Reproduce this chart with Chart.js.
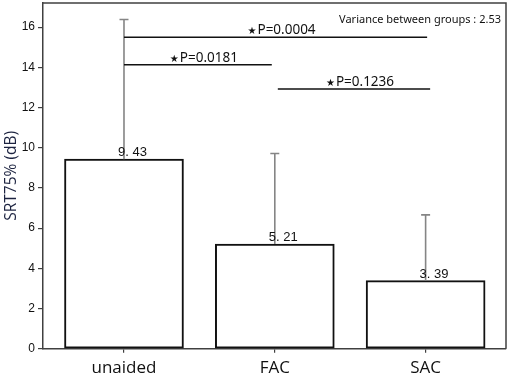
<!DOCTYPE html>
<html>
<head>
<meta charset="utf-8">
<script src="https://cdn.jsdelivr.net/npm/chart.js@4.4.1/dist/chart.umd.min.js"></script>
<style>
html,body{margin:0;padding:0;background:#fff;}
#wrap{width:510px;height:376px;}
</style>
</head>
<body>
<div id="wrap"><canvas id="c" width="510" height="376"></canvas></div>
<script>
const categories = ["unaided", "FAC", "SAC"];
const means = [9.43, 5.21, 3.39];
const meanLabels = ["9. 43", "5. 21", "3. 39"];
const errorTops = [16.38, 9.71, 6.66];
const yTicks = [0, 2, 4, 6, 8, 10, 12, 14, 16];
const sigFrom = [0, 0, 1.02];
const sigTo = [2.01, 0.98, 2.03];
const sigLevel = [15.49, 14.13, 12.92];
const sigText = ["P=0.0004", "P=0.0181", "P=0.1236"];
const varianceText = "Variance between groups : 2.53";

const annot = {
  id: 'annot',
  afterDatasetsDraw(chart) {
    const ctx = chart.ctx, xs = chart.scales.x, ys = chart.scales.y, a = chart.chartArea;
    ctx.save();
    // error bars
    ctx.strokeStyle = '#858585';
    ctx.lineWidth = 1.6;
    means.forEach((m, i) => {
      const x = xs.getPixelForValue(i);
      const y0 = ys.getPixelForValue(m);
      const y1 = ys.getPixelForValue(errorTops[i]);
      ctx.beginPath();
      ctx.moveTo(x, y0); ctx.lineTo(x, y1);
      ctx.moveTo(x - 4.5, y1); ctx.lineTo(x + 4.5, y1);
      ctx.stroke();
    });
    // value labels
    ctx.fillStyle = '#111';
    ctx.font = '13px "Liberation Sans", Arial, sans-serif';
    ctx.textAlign = 'left';
    ctx.textBaseline = 'alphabetic';
    means.forEach((m, i) => {
      const x = xs.getPixelForValue(i);
      const y = ys.getPixelForValue(m);
      ctx.fillText(meanLabels[i], x - 6, y - 3);
    });
    // significance lines
    ctx.strokeStyle = '#111';
    ctx.lineWidth = 1.5;
    const sigFont = '13.5px "Noto Sans", "Open Sans", sans-serif';
    sigLevel.forEach((lv, i) => {
      const x0 = xs.getPixelForValue(sigFrom[i]);
      const x1 = xs.getPixelForValue(sigTo[i]);
      const y = ys.getPixelForValue(lv);
      ctx.beginPath(); ctx.moveTo(x0, y); ctx.lineTo(x1, y); ctx.stroke();
      const cx = (x0 + x1) / 2 + 6;
      ctx.font = sigFont;
      const tw = ctx.measureText(sigText[i]).width;
      ctx.font = '10px "DejaVu Sans", sans-serif';
      const sw = ctx.measureText('★').width;
      const total = sw + 1 + tw;
      const left = cx - total / 2;
      ctx.textAlign = 'left';
      ctx.fillText('★', left, y - 3);
      ctx.font = sigFont;
      ctx.fillText(sigText[i], left + sw + 1, y - 3);
    });
    // variance text
    ctx.font = '11px "Noto Sans", "Open Sans", sans-serif';
    ctx.textAlign = 'right';
    ctx.textBaseline = 'middle';
    ctx.fillStyle = '#111';
    ctx.fillText(varianceText, a.right - 5, 20);
    // frame top/right
    ctx.strokeStyle = '#404040';
    ctx.lineWidth = 1.5;
    ctx.beginPath();
    ctx.moveTo(a.left, a.top); ctx.lineTo(a.right, a.top); ctx.lineTo(a.right, a.bottom);
    ctx.stroke();
    ctx.restore();
  }
};

new Chart(document.getElementById('c'), {
  type: 'bar',
  data: {
    datasets: [{
      data: means.map((v, i) => ({x: i, y: v})),
      backgroundColor: '#ffffff',
      borderColor: '#111111',
      borderWidth: 2,
      borderSkipped: false,
      barThickness: 119
    }]
  },
  options: {
    responsive: false,
    animation: false,
    events: [],
    layout: {padding: {top: 3, right: 4, left: 0, bottom: 0}},
    plugins: {legend: {display: false}, tooltip: {enabled: false}},
    scales: {
      x: {
        type: 'linear',
        offset: false,
        bounds: 'data',
        min: -0.537,
        max: 2.533,
        afterBuildTicks: s => { s.ticks = categories.map((c, i) => ({value: i})); },
        afterFit: s => { s.height = 27.3; s.paddingLeft = 0; s.paddingRight = 0; },
        ticks: {
          callback: v => categories[v],
          font: {family: '"Open Sans", "Noto Sans", sans-serif', size: 17},
          color: '#111',
          padding: 5,
          autoSkip: false,
          maxRotation: 0
        },
        grid: {drawOnChartArea: false, drawTicks: true, tickLength: 4, color: '#404040', lineWidth: 1.2, offset: false},
        border: {color: '#404040', width: 1.5}
      },
      y: {
        min: 0,
        max: 17.2,
        afterBuildTicks: s => { s.ticks = yTicks.map(v => ({value: v})); },
        afterFit: s => { s.width = 43; s.paddingTop = 0; s.paddingBottom = 0; },
        ticks: {
          font: {family: '"Liberation Sans", Arial, sans-serif', size: 12},
          color: '#111',
          padding: 3
        },
        grid: {drawOnChartArea: false, drawTicks: true, tickLength: 5, color: '#404040', lineWidth: 1.2},
        border: {color: '#404040', width: 1.5},
        title: {
          display: true,
          text: 'SRT75% (dB)',
          font: {family: '"Open Sans", "Noto Sans", sans-serif', size: 15.5},
          color: '#1c2340',
          padding: {top: 2, bottom: 0}
        }
      }
    }
  },
  plugins: [annot]
});
</script>
</body>
</html>
